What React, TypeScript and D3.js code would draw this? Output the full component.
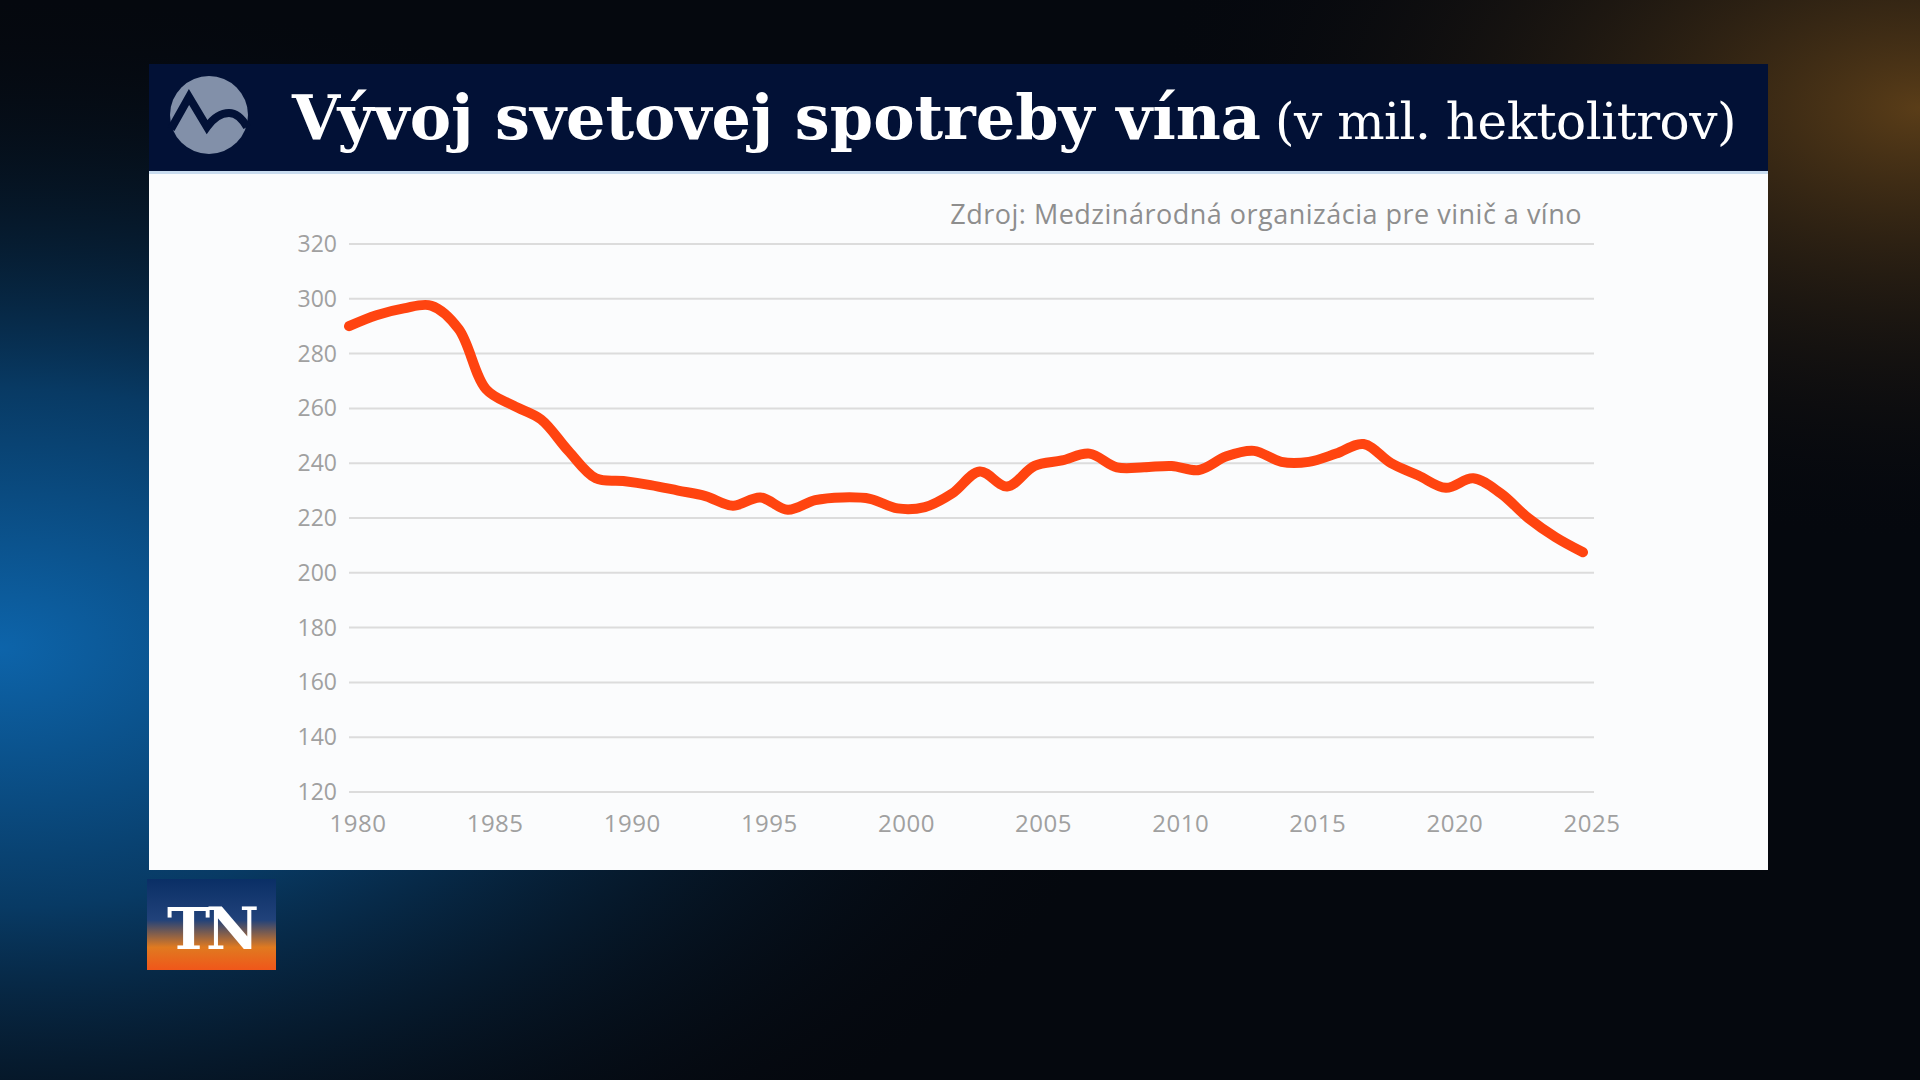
import { useRef, useEffect } from 'react';
import * as d3 from 'd3';

const years = [
  1980, 1981, 1982, 1983, 1984, 1985, 1986, 1987, 1988, 1989,
  1990, 1991, 1992, 1993, 1994, 1995, 1996, 1997, 1998, 1999,
  2000, 2001, 2002, 2003, 2004, 2005, 2006, 2007, 2008, 2009,
  2010, 2011, 2012, 2013, 2014, 2015, 2016, 2017, 2018, 2019,
  2020, 2021, 2022, 2023, 2024, 2025,
];
const consumption = [
  290, 294, 296.5, 297.5, 289, 267, 261, 256, 244.5, 234.5,
  233.5, 232, 230, 228, 224.5, 227.5, 223, 226.5, 227.5, 227,
  223.5, 224, 229, 237, 231.5, 239, 241, 243.5, 238.5, 238.5,
  239, 237.5, 242.5, 244.5, 240.5, 240.5, 243.5, 247, 240, 235.5,
  231, 234.5, 229, 220, 213, 207.5,
];
const yTicks = [120, 140, 160, 180, 200, 220, 240, 260, 280, 300, 320];
const xTicks = [1980, 1985, 1990, 1995, 2000, 2005, 2010, 2015, 2020, 2025];

const titleMain = 'Vývoj svetovej spotreby vína';
const titleUnit = '(v mil. hektolitrov)';
const sourceText = 'Zdroj: Medzinárodná organizácia pre vinič a víno';

const W = 1920;
const H = 1080;

export default function App() {
  const svgRef = useRef<SVGSVGElement>(null);

  useEffect(() => {
    if (!svgRef.current) return;
    const svg = d3.select(svgRef.current);
    svg.selectAll('*').remove();

    const defs = svg.append('defs');
    const blue = defs.append('radialGradient').attr('id', 'bgBlue')
      .attr('cx', 0.0).attr('cy', 0.6).attr('r', 0.6);
    blue.append('stop').attr('offset', '0%').attr('stop-color', '#0d64aa');
    blue.append('stop').attr('offset', '40%').attr('stop-color', '#083a64');
    blue.append('stop').attr('offset', '100%').attr('stop-color', '#050b14').attr('stop-opacity', 0);
    const amber = defs.append('radialGradient').attr('id', 'bgAmber')
      .attr('cx', 1).attr('cy', 0.1).attr('r', 0.4);
    amber.append('stop').attr('offset', '0%').attr('stop-color', '#5a3d18');
    amber.append('stop').attr('offset', '100%').attr('stop-color', '#06090f').attr('stop-opacity', 0);
    const tn = defs.append('linearGradient').attr('id', 'tnGrad')
      .attr('x1', 0).attr('y1', 0).attr('x2', 0).attr('y2', 1);
    tn.append('stop').attr('offset', '0%').attr('stop-color', '#0a2f66');
    tn.append('stop').attr('offset', '45%').attr('stop-color', '#21427a');
    tn.append('stop').attr('offset', '75%').attr('stop-color', '#e07a20');
    tn.append('stop').attr('offset', '100%').attr('stop-color', '#f0561a');

    // Background
    svg.append('rect').attr('width', W).attr('height', H).attr('fill', '#05080e');
    svg.append('rect').attr('width', W).attr('height', H).attr('fill', 'url(#bgBlue)');
    svg.append('rect').attr('width', W).attr('height', H).attr('fill', 'url(#bgAmber)');

    // Panel
    const px0 = 149, px1 = 1768;
    svg.append('rect').attr('x', px0).attr('y', 64).attr('width', px1 - px0).attr('height', 108)
      .attr('fill', '#021136');
    svg.append('rect').attr('x', px0).attr('y', 172).attr('width', px1 - px0).attr('height', 698)
      .attr('fill', '#fbfcfd');
    svg.append('rect').attr('x', px0).attr('y', 171).attr('width', px1 - px0).attr('height', 3)
      .attr('fill', '#c9dcef');

    // Logo
    const logo = svg.append('g').attr('transform', 'translate(209,115)');
    logo.append('circle').attr('r', 39).attr('fill', '#8290a9');
    logo.append('path')
      .attr('d', 'M-38,14 L-20,-18 L-2,12 Q8,-2 20,-2 Q30,-2 38,12')
      .attr('fill', 'none').attr('stroke', '#021136').attr('stroke-width', 8)
      .attr('stroke-linejoin', 'miter');

    // Title
    const title = svg.append('text').attr('x', 292).attr('y', 139)
      .attr('fill', '#ffffff').attr('font-family', '"DejaVu Serif", serif');
    title.append('tspan').attr('font-size', 62).attr('font-weight', 700)
      .attr('letter-spacing', 0).text(titleMain);
    title.append('tspan').attr('dx', 14).attr('font-size', 50).attr('font-weight', 400)
      .attr('letter-spacing', -0.5).text(titleUnit);

    // Source
    svg.append('text').attr('x', 1582).attr('y', 224).attr('text-anchor', 'end')
      .attr('fill', '#8e8e8e').attr('font-family', '"Open Sans", sans-serif')
      .attr('font-size', 27).attr('font-weight', 500).attr('letter-spacing', 0.5).text(sourceText);

    // Scales
    const x = d3.scaleLinear().domain([1980, 2025]).range([349, 1583]);
    const y = d3.scaleLinear().domain([120, 320]).range([792, 244]);
    const gridX0 = 349, gridX1 = 1594;

    // Grid + Y labels
    const gy = svg.append('g');
    gy.selectAll('line').data(yTicks).enter().append('line')
      .attr('x1', gridX0).attr('x2', gridX1)
      .attr('y1', (d) => y(d)).attr('y2', (d) => y(d))
      .attr('stroke', '#dcdcdc').attr('stroke-width', 2);
    gy.selectAll('text').data(yTicks).enter().append('text')
      .attr('x', 337).attr('y', (d) => y(d) + 8).attr('text-anchor', 'end')
      .attr('fill', '#a0a0a0').attr('font-family', '"Open Sans", sans-serif')
      .attr('font-size', 23).text((d) => d);

    // X labels
    svg.append('g').selectAll('text').data(xTicks).enter().append('text')
      .attr('x', (d) => x(d) + 9).attr('y', 832).attr('text-anchor', 'middle')
      .attr('fill', '#a0a0a0').attr('font-family', '"Open Sans", sans-serif')
      .attr('font-size', 24).attr('letter-spacing', 0.5).text((d) => d);

    // Line
    const line = d3.line<number>()
      .x((_, i) => x(years[i]))
      .y((d) => y(d))
      .curve(d3.curveCatmullRom.alpha(0.5));
    svg.append('path').datum(consumption).attr('d', line)
      .attr('fill', 'none').attr('stroke', '#ff4410').attr('stroke-width', 10)
      .attr('stroke-linecap', 'round').attr('stroke-linejoin', 'round');

    // TN badge
    const badge = svg.append('g').attr('transform', 'translate(147,879)');
    badge.append('rect').attr('width', 129).attr('height', 91).attr('fill', 'url(#tnGrad)');
    badge.append('text').attr('x', 64).attr('y', 70).attr('text-anchor', 'middle')
      .attr('fill', '#ffffff').attr('font-family', '"DejaVu Serif", serif')
      .attr('font-weight', 700).attr('font-size', 58).attr('letter-spacing', -4).text('TN');
  }, []);

  return (
    <svg ref={svgRef} width={W} height={H}
      style={{ display: 'block', position: 'absolute', left: 0, top: 0 }} />
  );
}
